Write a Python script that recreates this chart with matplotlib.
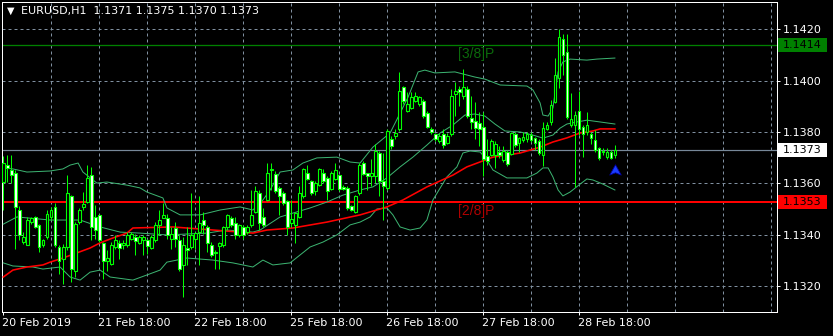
import numpy as np
import matplotlib
matplotlib.use("Agg")
import matplotlib.pyplot as plt
from matplotlib.patches import Rectangle
from matplotlib.path import Path
import matplotlib.transforms as mtransforms

# ---------------- data ----------------
symbol_header = "EURUSD,H1  1.1371 1.1375 1.1370 1.1373"

opens = [1.13607,1.13672,1.13652,1.13639,1.13498,1.13371,1.13358,1.13450,1.13467,1.13439,
         1.13358,1.13391,1.13467,1.13509,1.13352,1.13306,1.13352,1.13550,1.13260,1.13450,
         1.13509,1.13528,1.13633,1.13467,1.13476,1.13369,1.13299,1.13286,1.13352,1.13369,
         1.13358,1.13358,1.13384,1.13391,1.13367,1.13378,1.13378,1.13349,1.13378,1.13437,
         1.13465,1.13465,1.13384,1.13424,1.13378,1.13280,1.13349,1.13352,1.13384,1.13411,
         1.13456,1.13428,1.13358,1.13332,1.13354,1.13358,1.13428,1.13465,1.13447,1.13397,
         1.13428,1.13411,1.13437,1.13490,1.13562,1.13470,1.13536,1.13651,1.13638,1.13582,
         1.13562,1.13530,1.13447,1.13438,1.13468,1.13549,1.13641,1.13608,1.13569,1.13595,
         1.13641,1.13621,1.13578,1.13617,1.13631,1.13586,1.13582,1.13512,1.13490,1.13562,
         1.13680,1.13641,1.13630,1.13628,1.13719,1.13608,1.13582,1.13771,1.13784,1.13810,
         1.13974,1.13882,1.13895,1.13922,1.13909,1.13922,1.13873,1.13813,1.13793,1.13765,
         1.13791,1.13758,1.13791,1.13948,1.13967,1.13941,1.13967,1.13856,1.13843,1.13834,
         1.13821,1.13706,1.13712,1.13712,1.13722,1.13690,1.13722,1.13715,1.13794,1.13758,
         1.13767,1.13774,1.13790,1.13777,1.13763,1.13709,1.13811,1.13837,1.13918,1.14009,
         1.14163,1.14111,1.13826,1.13829,1.13881,1.13820,1.13800,1.13792,1.13767,1.13737,
         1.13724,1.13702,1.13722,1.13710]
highs = [1.13705,1.13711,1.13711,1.13652,1.13511,1.13411,1.13469,1.13469,1.13472,1.13443,
         1.13384,1.13495,1.13509,1.13522,1.13358,1.13365,1.13633,1.13554,1.13450,1.13502,
         1.13567,1.13672,1.13665,1.13515,1.13482,1.13371,1.13339,1.13371,1.13397,1.13378,
         1.13378,1.13411,1.13411,1.13404,1.13397,1.13397,1.13384,1.13397,1.13450,1.13495,
         1.13522,1.13482,1.13430,1.13450,1.13397,1.13391,1.13430,1.13561,1.13411,1.13550,
         1.13489,1.13437,1.13371,1.13339,1.13371,1.13433,1.13482,1.13472,1.13469,1.13443,
         1.13437,1.13437,1.13574,1.13588,1.13575,1.13503,1.13680,1.13680,1.13647,1.13588,
         1.13569,1.13536,1.13536,1.13490,1.13588,1.13660,1.13673,1.13614,1.13608,1.13660,
         1.13654,1.13628,1.13647,1.13680,1.13634,1.13595,1.13588,1.13516,1.13556,1.13680,
         1.13686,1.13641,1.13693,1.13752,1.13726,1.13719,1.13810,1.13784,1.13810,1.14033,
         1.13980,1.13954,1.13954,1.13954,1.13941,1.13928,1.13882,1.13821,1.13797,1.13797,
         1.13810,1.13797,1.13967,1.13993,1.13980,1.14046,1.13980,1.13941,1.13915,1.13876,
         1.13876,1.13771,1.13771,1.13765,1.13745,1.13745,1.13728,1.13800,1.13800,1.13780,
         1.13800,1.13800,1.13800,1.13780,1.13774,1.13837,1.13839,1.13924,1.14088,1.14200,
         1.14182,1.14182,1.13950,1.13881,1.13960,1.13826,1.13878,1.13800,1.13807,1.13741,
         1.13737,1.13737,1.13728,1.13750]
lows = [1.13495,1.13607,1.13600,1.13345,1.13378,1.13365,1.13358,1.13443,1.13424,1.13332,
        1.13352,1.13384,1.13456,1.13352,1.13247,1.13208,1.13339,1.13215,1.13234,1.13443,
        1.13495,1.13522,1.13378,1.13384,1.13371,1.13228,1.13260,1.13280,1.13345,1.13306,
        1.13345,1.13352,1.13378,1.13319,1.13365,1.13319,1.13326,1.13345,1.13371,1.13397,
        1.13463,1.13384,1.13345,1.13352,1.13260,1.13156,1.13280,1.13345,1.13345,1.13280,
        1.13404,1.13332,1.13312,1.13267,1.13267,1.13352,1.13417,1.13430,1.13384,1.13391,
        1.13384,1.13404,1.13430,1.13484,1.13418,1.13431,1.13530,1.13575,1.13562,1.13477,
        1.13516,1.13399,1.13431,1.13369,1.13464,1.13543,1.13614,1.13556,1.13556,1.13588,
        1.13601,1.13536,1.13575,1.13614,1.13569,1.13575,1.13497,1.13494,1.13486,1.13556,
        1.13634,1.13575,1.13588,1.13600,1.13549,1.13458,1.13575,1.13732,1.13771,1.13804,
        1.13909,1.13876,1.13889,1.13915,1.13902,1.13856,1.13817,1.13791,1.13765,1.13758,
        1.13739,1.13752,1.13784,1.13863,1.13902,1.13928,1.13856,1.13810,1.13771,1.13745,
        1.13628,1.13673,1.13706,1.13660,1.13699,1.13682,1.13669,1.13709,1.13741,1.13722,
        1.13761,1.13761,1.13761,1.13728,1.13709,1.13669,1.13807,1.13826,1.13911,1.13970,
        1.14022,1.13852,1.13820,1.13584,1.13787,1.13702,1.13787,1.13754,1.13722,1.13689,
        1.13709,1.13696,1.13696,1.13700]
closes = [1.13678,1.13659,1.13633,1.13509,1.13397,1.13391,1.13456,1.13463,1.13430,1.13352,
          1.13378,1.13480,1.13498,1.13358,1.13299,1.13352,1.13561,1.13267,1.13443,1.13498,
          1.13519,1.13620,1.13428,1.13420,1.13378,1.13299,1.13309,1.13358,1.13378,1.13349,
          1.13369,1.13397,1.13401,1.13374,1.13391,1.13391,1.13354,1.13391,1.13437,1.13459,
          1.13478,1.13397,1.13401,1.13384,1.13267,1.13358,1.13339,1.13397,1.13407,1.13446,
          1.13437,1.13369,1.13319,1.13329,1.13369,1.13428,1.13478,1.13437,1.13397,1.13437,
          1.13397,1.13428,1.13478,1.13569,1.13447,1.13438,1.13641,1.13654,1.13569,1.13549,
          1.13523,1.13431,1.13460,1.13484,1.13562,1.13654,1.13617,1.13562,1.13601,1.13654,
          1.13608,1.13569,1.13641,1.13651,1.13578,1.13579,1.13503,1.13497,1.13549,1.13673,
          1.13638,1.13630,1.13641,1.13726,1.13608,1.13588,1.13804,1.13745,1.13797,1.13961,
          1.13922,1.13909,1.13935,1.13941,1.13935,1.13863,1.13821,1.13800,1.13771,1.13784,
          1.13748,1.13784,1.13941,1.13961,1.13954,1.13974,1.13863,1.13837,1.13817,1.13810,
          1.13693,1.13686,1.13765,1.13752,1.13712,1.13725,1.13676,1.13797,1.13748,1.13777,
          1.13780,1.13794,1.13767,1.13758,1.13719,1.13816,1.13829,1.13905,1.14022,1.14169,
          1.14101,1.13859,1.13850,1.13868,1.13813,1.13794,1.13829,1.13777,1.13728,1.13698,
          1.13722,1.13722,1.13698,1.13730]

# Bollinger bands (bar index, price)
upper_x = [0,2.4,5.9,11.7,14.9,16.7,18.7,19.9,23.4,25.9,30.9,34.2,35.9,39.9,40.9,44.2,49.2,54.2,
           59.2,62.4,64.9,66.7,69.2,72.4,74.9,78.4,83.4,86.7,89.2,92.4,96.7,98.7,101.2,103.7,
           105.4,107.9,112.9,117.9,120.4,124.2,130.9,132.4,134.2,134.9,136.2,137.4,138.7,139.9,
           141.7,145.9,148.4,152.9]
upper_y = [1.13660,1.13656,1.13644,1.13648,1.13656,1.13671,1.13679,1.13644,1.13601,1.13605,
           1.13593,1.13582,1.13566,1.13543,1.13504,1.13477,1.13477,1.13496,1.13508,1.13496,
           1.13535,1.13574,1.13644,1.13652,1.13679,1.13699,1.13702,1.13683,1.13679,1.13741,
           1.13796,1.13858,1.13936,1.14034,1.14041,1.14030,1.14034,1.14014,1.14006,1.13983,
           1.13979,1.13964,1.13913,1.13866,1.13862,1.13893,1.14034,1.14073,1.14084,1.14080,
           1.14084,1.14088]
middle_x = [0,3.4,11.7,19.2,24.2,29.2,34.2,40.9,50.9,55.9,62.4,64.2,69.2,72.4,76.7,80.9,84.9,
            89.2,92.4,95.9,99.2,102.4,105.9,109.2,112.4,115.4,117.9,120.4,122.9,125.4,129.2,
            132.4,134.9,137.4,139.2,140.9,143.4,145.9,149.2,152.9]
middle_y = [1.13441,1.13469,1.13457,1.13457,1.13430,1.13410,1.13406,1.13399,1.13406,1.13418,
            1.13410,1.13418,1.13469,1.13484,1.13504,1.13527,1.13554,1.13574,1.13586,1.13621,
            1.13664,1.13702,1.13749,1.13796,1.13827,1.13866,1.13870,1.13862,1.13831,1.13804,
            1.13800,1.13788,1.13776,1.13788,1.13815,1.13831,1.13839,1.13846,1.13839,1.13831]
lower_x = [0,2.4,7.4,9.9,14.2,16.7,19.2,21.7,24.2,26.7,32.4,35.9,39.2,40.9,45.9,52.4,57.4,62.4,
           64.9,67.4,71.7,74.2,76.7,79.9,83.4,86.7,89.2,91.7,93.4,95.9,97.4,99.2,101.7,104.2,
           105.9,107.4,110.9,113.4,114.9,116.7,119.2,120.9,122.4,125.9,130.9,133.4,134.9,136.2,
           137.4,138.7,139.9,141.7,144.2,145.9,147.4,149.9,152.9]
lower_y = [1.13290,1.13278,1.13274,1.13266,1.13274,1.13235,1.13223,1.13254,1.13262,1.13235,
           1.13223,1.13243,1.13262,1.13293,1.13309,1.13301,1.13290,1.13274,1.13301,1.13282,
           1.13290,1.13321,1.13352,1.13371,1.13399,1.13438,1.13449,1.13469,1.13500,1.13504,
           1.13477,1.13430,1.13418,1.13426,1.13457,1.13535,1.13625,1.13664,1.13718,1.13726,
           1.13722,1.13691,1.13652,1.13621,1.13621,1.13640,1.13660,1.13660,1.13625,1.13574,
           1.13551,1.13566,1.13597,1.13617,1.13613,1.13597,1.13574]
# red moving average
ma_x = [0,2.4,5.9,9.9,11.7,14.9,18.4,21.7,24.2,27.4,30.9,32.4,42.4,49.2,59.2,62.4,65.9,69.2,
        72.4,80.9,89.2,95.9,99.9,105.9,112.4,115.9,122.4,129.2,134.2,137.4,140.9,144.2,147.4,
        149.2,152.9]
ma_y = [1.13235,1.13262,1.13274,1.13282,1.13293,1.13309,1.13329,1.13348,1.13368,1.13387,
        1.13406,1.13426,1.13430,1.13422,1.13410,1.13406,1.13418,1.13422,1.13426,1.13449,
        1.13477,1.13508,1.13535,1.13586,1.13632,1.13664,1.13702,1.13718,1.13741,1.13761,
        1.13777,1.13796,1.13804,1.13812,1.13812]

# levels
level_values = [1.14137, 1.13527]
level_names = ["[3/8]P", "[2/8]P"]
level_tags = ["1.1414", "1.1353"]
level_colors = ["#008000", "#ff0000"]
level_text_colors = ["#0b6b0b", "#b00000"]
bid_value = 1.1373
bid_tag = "1.1373"

signal_bar = 153
signal_price = 1.13652

price_ticks = [1.1320, 1.1340, 1.1360, 1.1380, 1.1400, 1.1420]
price_labels = ["1.1320", "1.1340", "1.1360", "1.1380", "1.1400", "1.1420"]
time_ticks = [0, 24, 48, 72, 96, 120, 144]
time_labels = ["20 Feb 2019", "21 Feb 18:00", "22 Feb 18:00", "25 Feb 18:00",
               "26 Feb 18:00", "27 Feb 18:00", "28 Feb 18:00"]

# ---------------- figure ----------------
W, H, DPI = 833, 336, 100
PX = 72.0 / DPI  # points per pixel
fig = plt.figure(figsize=(W / DPI, H / DPI), dpi=DPI, facecolor="black")
L, R, T, B = 2, 777, 2, 312
ax = fig.add_axes([L / W, (H - B) / H, (R - L) / W, (B - T) / H], facecolor="black")

pp = 0.001 / 25.67  # price per pixel
ax.set_xlim((L - 3.3) / 4.0, (R - 3.3) / 4.0)
ax.set_ylim(1.1420 - (B - 29.3) * pp, 1.1420 + (29.3 - T) * pp)

grid_c = "#8090a0"
# grid
for gx in range(12, 200, 12):
    ax.axvline(gx, color=grid_c, lw=1 * PX, ls=(0, (3, 3)), zorder=1)
for gy in price_ticks:
    ax.axhline(gy, color=grid_c, lw=1 * PX, ls=(0, (3, 3)), zorder=1)

# horizontal levels
ax.axhline(bid_value, color="#778899", lw=1.2 * PX, zorder=2)
ax.axhline(level_values[0], color=level_colors[0], lw=1.3 * PX, zorder=2)
ax.axhline(level_values[1], color=level_colors[1], lw=2 * PX, zorder=2)

# level names
for v, name, c in zip(level_values, level_names, level_text_colors):
    ax.annotate(name, xy=(113.7, v), xytext=(0, -1.5 * PX), textcoords="offset points",
                color=c, fontsize=10, family="Liberation Sans", va="top", ha="left", zorder=3)

# indicators
band_c = "#3cb371"
ax.plot(upper_x, upper_y, color=band_c, lw=1 * PX, zorder=3)
ax.plot(middle_x, middle_y, color=band_c, lw=1 * PX, zorder=3)
ax.plot(lower_x, lower_y, color=band_c, lw=1 * PX, zorder=3)
ax.plot(ma_x, ma_y, color="#ff0000", lw=1.6 * PX, zorder=4)

# candles
o = np.array(opens); h = np.array(highs); lo = np.array(lows); c = np.array(closes)
idx = np.arange(len(o))
lime = "#00ff00"
ax.vlines(idx, lo, h, color=lime, lw=1 * PX, zorder=5)
bottoms = np.minimum(o, c)
heights = np.maximum(np.abs(c - o), 0.000004)
faces = np.where(c >= o, "black", "white")
ax.bar(idx, heights, bottom=bottoms, width=0.6, color=list(faces), edgecolor=lime,
       linewidth=1.1 * PX, zorder=6)

# signal arrow
arrow = Path([(0, 1), (-1, -0.8), (0, -0.4), (1, -0.8), (0, 1)],
             [Path.MOVETO, Path.LINETO, Path.LINETO, Path.LINETO, Path.CLOSEPOLY])
ax.plot([signal_bar], [signal_price], marker=arrow, ms=11.5 * PX, color="#1a3cff",
        mec="#0000a0", mew=0.8 * PX, ls="none", zorder=7)

# axes style
for s in ax.spines.values():
    s.set_color("white")
    s.set_linewidth(1 * PX)
ax.yaxis.tick_right()
ax.set_yticks(price_ticks)
ax.set_yticklabels(price_labels)
ax.set_xticks(time_ticks)
ax.set_xticklabels(time_labels)
ax.tick_params(axis="both", colors="white", length=3 * PX, width=1 * PX, labelsize=8,
               pad=3 * PX, direction="out")
offs = mtransforms.ScaledTranslation(-1 / DPI, 0, fig.dpi_scale_trans)
for lab in ax.get_xticklabels():
    lab.set_ha("left")
    lab.set_transform(lab.get_transform() + offs)

# price tags on the right axis
tr = mtransforms.blended_transform_factory(ax.transAxes, ax.transData)
x0 = (778 - L) / (R - L)
x1 = (827 - L) / (R - L)
tags = [(level_values[0], level_tags[0], level_colors[0]),
        (bid_value, bid_tag, "white"),
        (level_values[1], level_tags[1], level_colors[1])]
for v, t, fc in tags:
    ax.add_patch(Rectangle((x0, v - 7 * pp), x1 - x0, 14 * pp, transform=tr,
                           facecolor=fc, edgecolor="none", clip_on=False, zorder=10))
    ax.text((783 - L) / (R - L), v, t, transform=tr, color="black", fontsize=8,
            va="center", ha="left", clip_on=False, zorder=11)

# header
fig.text(7 / W, 1 - 11 / H, "\u25bc", color="white", fontsize=7, va="center", ha="left")
fig.text(21 / W, 1 - 11 / H, symbol_header, color="white", fontsize=8, va="center", ha="left")

fig.savefig("out.png", dpi=DPI, facecolor="black")
